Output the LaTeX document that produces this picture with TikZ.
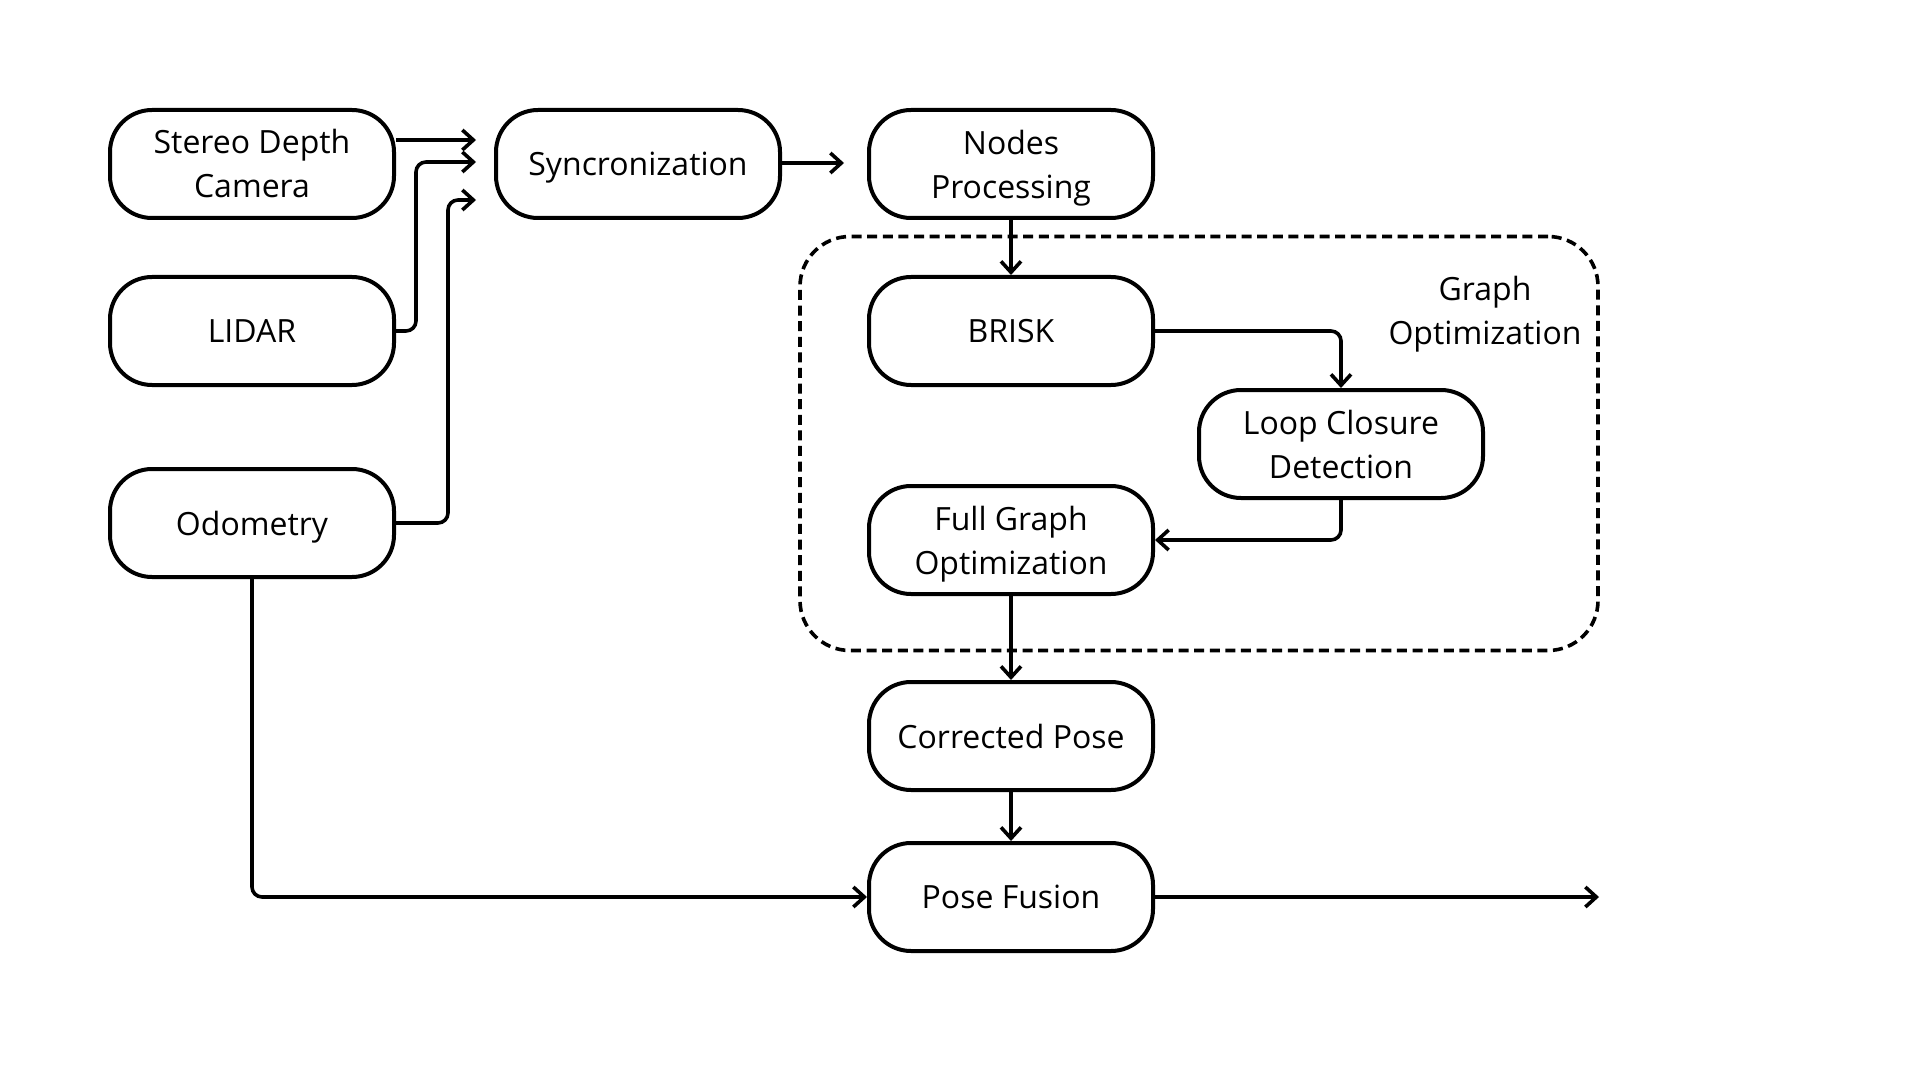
\documentclass[tikz,border=0pt]{standalone}
\usepackage{fontspec}
\setmainfont{Open Sans}
\usetikzlibrary{arrows.meta}
\newcommand{\nodp}[1]{\raisebox{0pt}[\height][0pt]{#1}}
\begin{document}
\begin{tikzpicture}[x=0.5pt,y=-0.5pt,
  box/.style={draw=black, line width=2pt, rounded corners=21pt,
    minimum width=142pt, minimum height=54pt, align=center,
    font=\fontsize{16}{22}\selectfont, inner sep=0pt},
  conn/.style={line width=1.8pt, rounded corners=5pt,
    -{Straight Barb[length=5.5pt,width=10pt]}},
  group/.style={draw=black, line width=1.8pt, dash pattern=on 5pt off 2.8pt,
    rounded corners=25pt, minimum width=399pt, minimum height=207pt, inner sep=0pt},
  lbl/.style={align=center, font=\fontsize{16}{22}\selectfont}
]
\useasboundingbox (0,0) rectangle (1920,1080);

\node[group] (grp) at (1199,443.5) {};
\node[lbl] (grplbl) at (1485,310) {Graph\\\nodp{Optimization}};

\node[box] (stereo) at (252,164) {Stereo Depth\\Camera};
\node[box] (lidar) at (252,331) {LIDAR};
\node[box] (odom) at (252,523) {\nodp{Odometry}};
\node[box] (sync) at (638,164) {\nodp{Syncronization}};
\node[box] (nodes) at (1011,164) {Nodes\\\nodp{Processing}};
\node[box] (brisk) at (1011,331) {BRISK};
\node[box] (loop) at (1341,444) {Loop Closure\\Detection};
\node[box] (fgo) at (1011,540) {Full Graph\\\nodp{Optimization}};
\node[box] (corr) at (1011,736) {Corrected Pose};
\node[box] (fusion) at (1011,897) {Pose Fusion};

\coordinate (in1) at (476,140);
\coordinate (in2) at (476,162);
\coordinate (in3) at (476,200);
\coordinate (l1) at (416,162);
\coordinate (o1) at (448,200);
\coordinate (nin) at (844,163);
\coordinate (out) at (1599,897);

\draw[conn] (stereo.east |- in1) -- (in1);
\draw[conn] (lidar.east) -| (l1) -- (in2);
\draw[conn] (odom.east) -| (o1) -- (in3);
\draw[conn] (sync.east |- nin) -- (nin);
\draw[conn] (nodes.south) -- (brisk.north);
\draw[conn] (brisk.east) -| (loop.north);
\draw[conn] (loop.south) |- (fgo.east);
\draw[conn] (fgo.south) -- (corr.north);
\draw[conn] (corr.south) -- (fusion.north);
\draw[conn] (odom.south) |- (fusion.west);
\draw[conn] (fusion.east) -- (out);
\end{tikzpicture}
\end{document}
